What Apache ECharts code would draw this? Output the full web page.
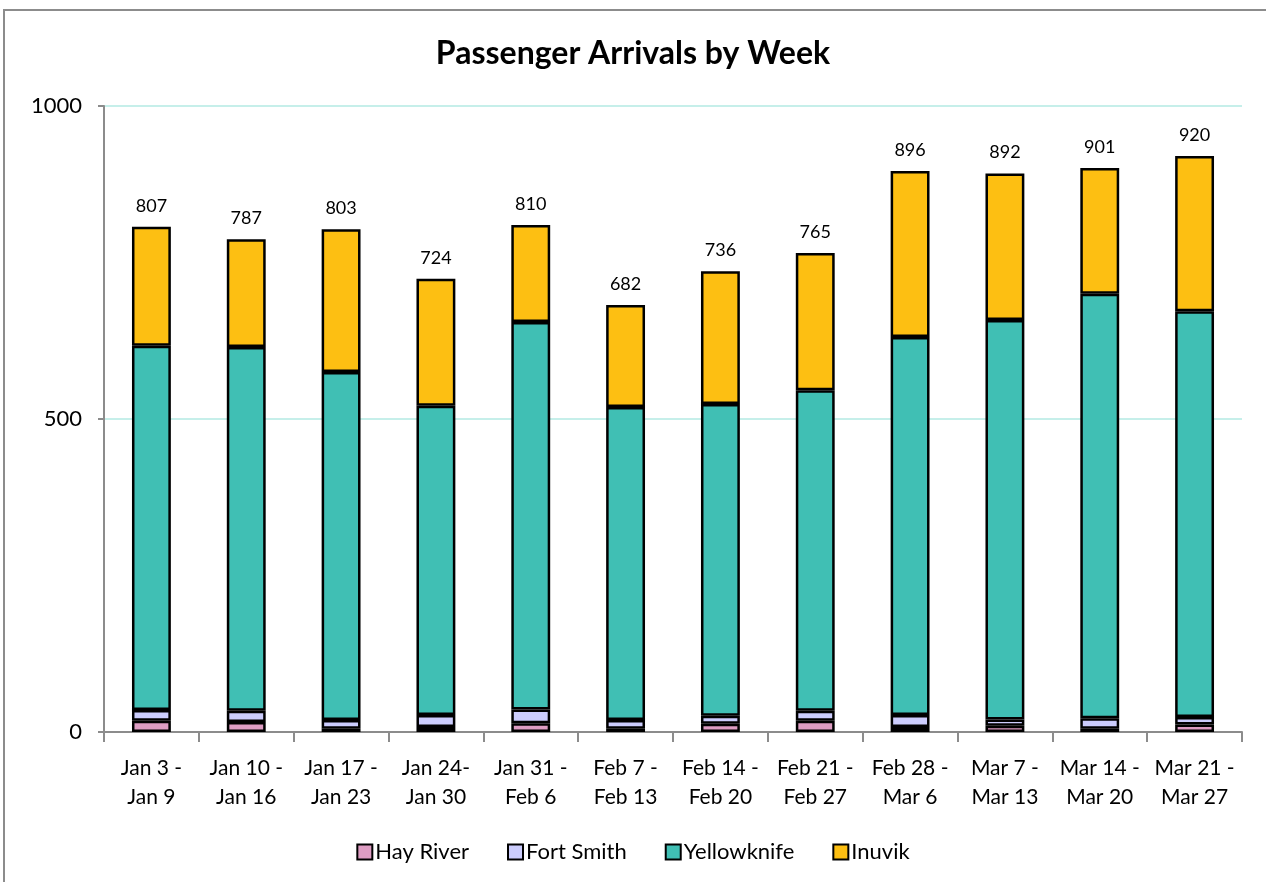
<!DOCTYPE html>
<html><head><meta charset="utf-8">
<script src="https://cdn.jsdelivr.net/npm/echarts@6/dist/echarts.min.js"></script>
<style>html,body{margin:0;padding:0;background:#fff}#c{width:1266px;height:882px}</style>
</head><body><div id="c"></div>
<script>
const categories = ['Jan 3 -\nJan 9','Jan 10 -\nJan 16','Jan 17 -\nJan 23','Jan 24-\nJan 30','Jan 31 -\nFeb 6','Feb 7 -\nFeb 13','Feb 14 -\nFeb 20','Feb 21 -\nFeb 27','Feb 28 -\nMar 6','Mar 7 -\nMar 13','Mar 14 -\nMar 20','Mar 21 -\nMar 27'];
const hayRiver    = [18, 16, 5, 8, 14, 5, 13, 18, 8, 10, 5, 12];
const fortSmith   = [17, 18, 14, 19, 22, 14, 13, 16, 19, 10, 17, 12];
const yellowknife = [582, 581, 556, 494, 619, 500, 498, 512, 604, 638, 678, 648];
const inuvik      = [190, 172, 228, 203, 155, 163, 212, 219, 265, 234, 201, 248];
const yTicks = [0, 500, 1000];

const font = 'Lato, "Open Sans", sans-serif';
const chart = echarts.init(document.getElementById('c'), null, {renderer: 'canvas'});
const mk = (name, data, color) => ({
  name, type: 'bar', stack: 'total', data, barWidth: '41%',
  itemStyle: {color, borderColor: '#000', borderWidth: 2.5}
});
const inu = mk('Inuvik', inuvik, '#fdbf12');
inu.label = {
  show: true, position: 'top', distance: 12, color: '#000', fontSize: 18, fontFamily: font,
  formatter: p => String(hayRiver[p.dataIndex] + fortSmith[p.dataIndex] + yellowknife[p.dataIndex] + inuvik[p.dataIndex])
};
chart.setOption({
  backgroundColor: '#fff',
  animation: false,
  graphic: [{type: 'rect', shape: {x: 4, y: 10, width: 1280, height: 900}, style: {fill: 'none', stroke: '#8c8c8c', lineWidth: 2}}],
  title: {text: 'Passenger Arrivals by Week', left: 'center', top: 33,
    textStyle: {fontFamily: font, fontSize: 32, fontWeight: 'bold', color: '#000'}},
  legend: {bottom: 14, left: 'center', itemWidth: 15, itemHeight: 15, itemGap: 38,
    textStyle: {fontFamily: font, fontSize: 22, color: '#000', padding: [0, 0, 0, -2]},
    data: ['Hay River','Fort Smith','Yellowknife','Inuvik'].map(n => ({name: n, icon: 'rect', itemStyle: {borderColor: '#000', borderWidth: 2}}))},
  grid: {left: 104, right: 24, top: 106, bottom: 150},
  xAxis: {type: 'category', data: categories, boundaryGap: true,
    axisLine: {lineStyle: {color: '#8c8c8c', width: 2}},
    axisTick: {show: true, length: 10, lineStyle: {color: '#8c8c8c', width: 2}},
    axisLabel: {fontFamily: font, fontSize: 21, color: '#000', lineHeight: 29, margin: 22, interval: 0}},
  yAxis: {type: 'value', min: 0, max: 1000, interval: 500,
    axisLine: {show: true, lineStyle: {color: '#8c8c8c', width: 2}},
    axisTick: {show: true, length: 6, lineStyle: {color: '#8c8c8c', width: 2}},
    axisLabel: {fontFamily: font, fontSize: 22, color: '#000', margin: 22,
      formatter: v => yTicks.includes(v) ? String(v) : ''},
    splitLine: {lineStyle: {color: '#c6efea', width: 2}}},
  series: [
    mk('Hay River', hayRiver, '#de9dc3'),
    mk('Fort Smith', fortSmith, '#cccdfd'),
    mk('Yellowknife', yellowknife, '#40bfb4'),
    inu
  ]
});
</script></body></html>
